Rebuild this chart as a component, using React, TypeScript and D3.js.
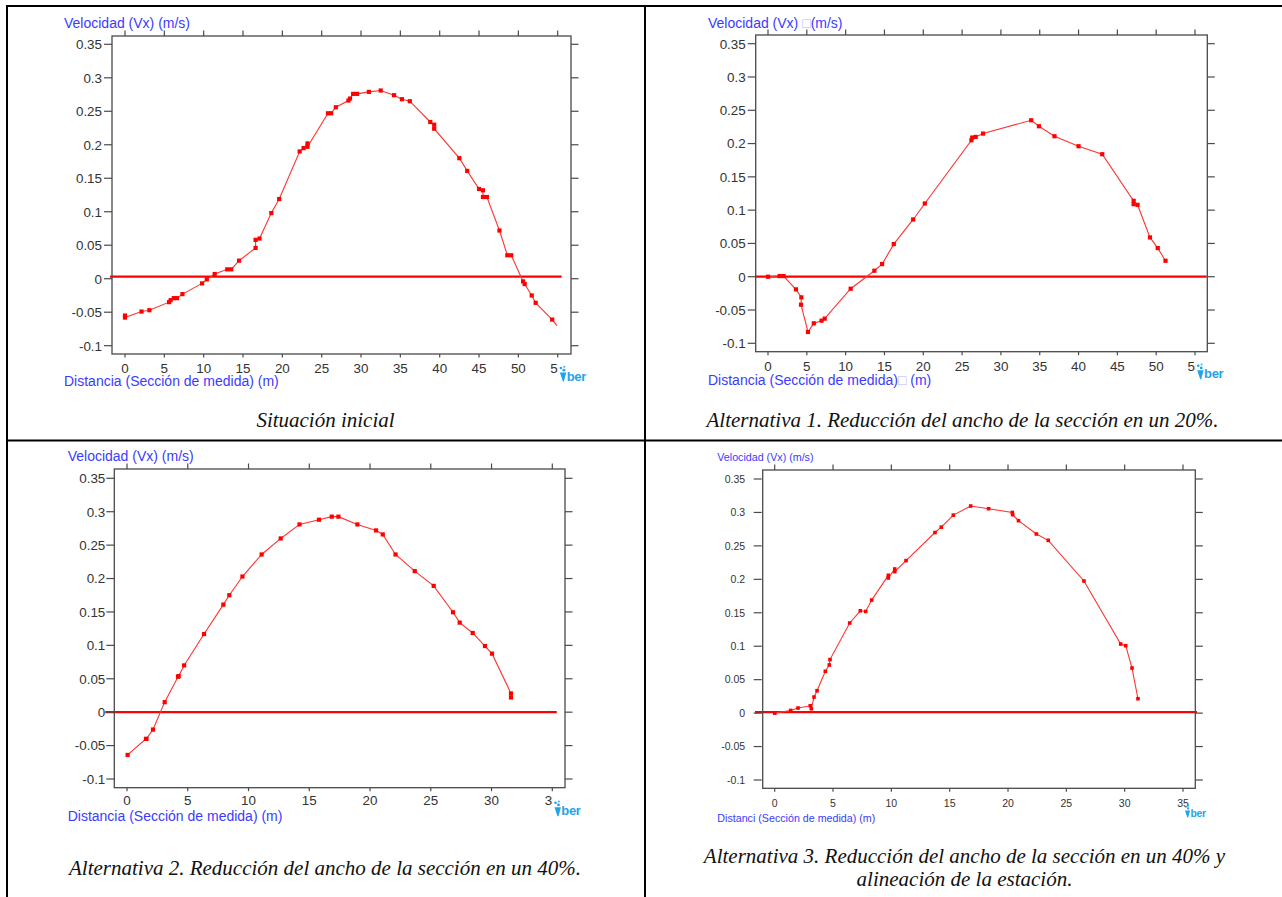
import React from "react";
import * as d3 from "d3";

// ---------- DATA ----------
const xTicks55 = [0, 5, 10, 15, 20, 25, 30, 35, 40, 45, 50, 55];
const xTicks35 = [0, 5, 10, 15, 20, 25, 30, 35];
const yTicks = [-0.1, -0.05, 0, 0.05, 0.1, 0.15, 0.2, 0.25, 0.3, 0.35];
const yTickLabels = ["-0.1", "-0.05", "0", "0.05", "0.1", "0.15", "0.2", "0.25", "0.3", "0.35"];

// Situación inicial
const sitX = [0, 0, 2.1, 3.1, 5.6, 5.8, 6.2, 6.6, 7.3, 9.8, 10.4, 11.4, 13.0, 13.5, 14.5, 16.6, 16.6, 17.1, 18.6, 19.6, 22.2, 22.7, 23.2, 23.2, 25.8, 26.2, 26.8, 28.4, 28.6, 29.0, 29.5, 31.0, 32.5, 34.2, 35.2, 36.2, 38.8, 39.3, 39.3, 42.5, 43.5, 45.0, 45.5, 45.5, 46.0, 47.6, 48.6, 49.1, 50.6, 50.8, 51.7, 52.2, 54.3, 54.9];
const sitY = [-0.055, -0.058, -0.049, -0.047, -0.035, -0.032, -0.029, -0.029, -0.023, -0.007, -0.001, 0.007, 0.014, 0.014, 0.027, 0.046, 0.058, 0.060, 0.098, 0.119, 0.190, 0.195, 0.202, 0.197, 0.247, 0.247, 0.256, 0.266, 0.269, 0.276, 0.276, 0.279, 0.281, 0.274, 0.268, 0.265, 0.234, 0.230, 0.224, 0.180, 0.161, 0.134, 0.132, 0.122, 0.122, 0.072, 0.035, 0.035, -0.004, -0.008, -0.025, -0.036, -0.061, -0.070];

// Alternativa 1
const alt1X = [0, 1.5, 2.0, 3.6, 4.3, 4.25, 5.15, 5.9, 6.9, 7.3, 10.65, 13.7, 14.7, 16.2, 18.7, 20.2, 26.2, 26.3, 26.75, 27.7, 33.9, 34.9, 36.9, 40.0, 43.05, 47.1, 47.1, 47.6, 49.2, 50.2, 51.2];
const alt1Y = [0.000, 0.001, 0.001, -0.019, -0.031, -0.042, -0.083, -0.070, -0.066, -0.063, -0.018, 0.009, 0.019, 0.049, 0.086, 0.110, 0.205, 0.209, 0.210, 0.215, 0.235, 0.226, 0.211, 0.196, 0.184, 0.114, 0.109, 0.108, 0.059, 0.043, 0.024];

// Alternativa 2
const alt2X = [0.05, 1.56, 1.6, 2.14, 3.1, 4.2, 4.25, 4.7, 6.34, 7.93, 8.42, 9.5, 11.08, 12.65, 14.2, 15.8, 16.85, 17.4, 18.96, 20.5, 21.05, 22.1, 23.68, 25.24, 26.83, 27.38, 28.45, 29.46, 30.04, 31.6, 31.6];
const alt2Y = [-0.064, -0.040, -0.040, -0.026, 0.015, 0.053, 0.054, 0.070, 0.117, 0.161, 0.175, 0.203, 0.236, 0.260, 0.281, 0.288, 0.2926, 0.2926, 0.281, 0.272, 0.266, 0.236, 0.211, 0.189, 0.1495, 0.134, 0.1185, 0.099, 0.0876, 0.028, 0.022];

// Alternativa 3
const alt3X = [0, 1.37, 2.0, 3.05, 3.14, 3.37, 3.63, 4.34, 4.68, 4.74, 6.43, 7.34, 7.8, 8.31, 9.74, 9.74, 10.29, 10.29, 11.26, 13.74, 14.28, 15.31, 16.8, 18.34, 20.37, 20.4, 20.9, 22.43, 23.45, 26.51, 29.66, 30.09, 30.63, 31.14];
const alt3Y = [0.000, 0.004, 0.0076, 0.011, 0.0066, 0.024, 0.0335, 0.0625, 0.072, 0.080, 0.1347, 0.153, 0.152, 0.169, 0.206, 0.202, 0.2155, 0.2115, 0.228, 0.270, 0.278, 0.296, 0.3096, 0.3056, 0.300, 0.2966, 0.2877, 0.2678, 0.2583, 0.1975, 0.1033, 0.1008, 0.0674, 0.0215];

const captions = [
  ["Situación inicial"],
  ["Alternativa 1. Reducción del ancho de la sección en un 20%."],
  ["Alternativa 2. Reducción del ancho de la sección en un 40%."],
  ["Alternativa 3. Reducción del ancho de la sección en un 40% y", "alineación de la estación."],
];

// ---------- LAYOUT ----------
const SANS = "'Liberation Sans', Arial, Helvetica, sans-serif";
const SERIF = "'Liberation Serif', 'Times New Roman', Times, serif";
const BLUE = "#3b3bff";
const AXIS = "#4a4a4a";
const TICKTXT = "#333";

type Panel = {
  xs: number[]; ys: number[]; xTicks: number[];
  xr: [number, number]; yr: [number, number];
  f: { l: number; t: number; r: number; b: number };
  zero: [number, number, number];
  titleX: number; yTitleY: number; xTitleY: number;
  fs: number; tfs: number; box: boolean; xLabel: string;
  cap: string[]; capX: number; capY: number[];
  hideTail: number; cover: boolean; logoDy: number; logoS: number;
  ms: number; xlDy: number; ylDx: number; leftTickGap: number;
};

const panels: Panel[] = [
  {
    xs: sitX, ys: sitY, xTicks: xTicks55, xr: [125, 557.7], yr: [345.7, 44.3],
    f: { l: 112, t: 36, r: 571, b: 354 }, zero: [-1.9, 55.5, 0.003],
    titleX: 64, yTitleY: 28, xTitleY: 386, fs: 14, tfs: 13.4, box: false,
    xLabel: "Distancia (Sección de medida) (m)",
    cap: captions[0], capX: 325.5, capY: [426.5], hideTail: 1, cover: true, logoDy: 11, logoS: 1,
    ms: 4.2, xlDy: 18.5, ylDx: 10, leftTickGap: 0,
  },
  {
    xs: alt1X, ys: alt1Y, xTicks: xTicks55, xr: [768, 1195], yr: [343.3, 43.7],
    f: { l: 755.7, t: 35, r: 1207.3, b: 351.7 }, zero: [-1.67, 56.5, 0],
    titleX: 708, yTitleY: 27.5, xTitleY: 385, fs: 14, tfs: 13.4, box: true,
    xLabel: "Distancia (Sección de medida)",
    cap: captions[1], capX: 962.5, capY: [426.5], hideTail: 0, cover: true, logoDy: 11, logoS: 1,
    ms: 4.2, xlDy: 19, ylDx: 10, leftTickGap: 0,
  },
  {
    xs: alt2X, ys: alt2Y, xTicks: xTicks35, xr: [127, 552.3], yr: [779, 478.3],
    f: { l: 114.3, t: 469, r: 565, b: 787.7 }, zero: [-1.79, 35.37, 0],
    titleX: 67.7, yTitleY: 461, xTitleY: 820.5, fs: 14, tfs: 13.4, box: false,
    xLabel: "Distancia (Sección de medida) (m)",
    cap: captions[2], capX: 325, capY: [874.5], hideTail: 0, cover: true, logoDy: 12, logoS: 1,
    ms: 4.2, xlDy: 17.5, ylDx: 9, leftTickGap: 0,
  },
  {
    xs: alt3X, ys: alt3Y, xTicks: xTicks35, xr: [774.7, 1183], yr: [780, 479],
    f: { l: 762.7, t: 470, r: 1195.3, b: 788.3 }, zero: [-1.69, 36.2, 0.0015],
    titleX: 717.3, yTitleY: 461, xTitleY: 821.5, fs: 10.7, tfs: 10.5, box: false,
    xLabel: "Distanci (Sección de medida) (m)",
    cap: captions[3], capX: 964.5, capY: [862.7, 886], hideTail: 0, cover: false, logoDy: 16, logoS: 0.8,
    ms: 3.6, xlDy: 19, ylDx: 17.5, leftTickGap: 1,
  },
];

function Logo({ x, y, s }: { x: number; y: number; s: number }) {
  const c = "#1fa3ec";
  return (
    <g transform={`translate(${x},${y}) scale(${s})`}>
      <circle cx={2.2} cy={3} r={1.3} fill={c} />
      <circle cx={5.6} cy={1.8} r={1.1} fill={c} opacity={0.8} />
      <circle cx={5.2} cy={5.2} r={1.4} fill={c} />
      <path d="M1.2,7.6 L7.6,7.6 L5.2,16.5 L4.2,16.5 Z" fill={c} />
      <text x={8} y={15.5} fontFamily={SANS} fontWeight="bold" fontSize={13} fill={c} letterSpacing={-0.3}>
        ber
      </text>
    </g>
  );
}

function ChartPanel({ p }: { p: Panel }) {
  const x = d3.scaleLinear().domain([0, p.xTicks[p.xTicks.length - 1]]).range(p.xr);
  const y = d3.scaleLinear().domain([-0.1, 0.35]).range(p.yr);
  const pts = p.xs.map((v, i) => [v, p.ys[i]] as [number, number]);
  const line = d3.line<[number, number]>().x((d) => x(d[0])).y((d) => y(d[1]));
  const marked = pts.slice(0, pts.length - p.hideTail);
  const { l, t, r, b } = p.f;
  const lastTick = p.xTicks[p.xTicks.length - 1];
  return (
    <g>
      <line x1={x(p.zero[0])} x2={x(p.zero[1])} y1={y(p.zero[2])} y2={y(p.zero[2])} stroke="#ff0000" strokeWidth={2.2} />
      <rect x={l} y={t} width={r - l} height={b - t} fill="none" stroke={AXIS} strokeWidth={1.3} />
      {yTicks.map((v, i) => (
        <g key={"yl" + i}>
          <line x1={l - 8 - p.leftTickGap} x2={l - p.leftTickGap} y1={y(v)} y2={y(v)} stroke={AXIS} strokeWidth={1.2} />
          <line x1={r} x2={r + 7.5} y1={y(v)} y2={y(v)} stroke={AXIS} strokeWidth={1.2} />
          <text x={l - p.ylDx} y={y(v)} dy="0.36em" textAnchor="end" fontFamily={SANS} fontSize={p.tfs} fill={TICKTXT}>
            {yTickLabels[i]}
          </text>
        </g>
      ))}
      {p.xTicks.map((v) => (
        <g key={"xt" + v}>
          <line x1={x(v)} x2={x(v)} y1={t} y2={t - 5.5} stroke={AXIS} strokeWidth={1.2} />
          <line x1={x(v)} x2={x(v)} y1={b} y2={b + 3.5} stroke={AXIS} strokeWidth={1.2} />
          <text x={x(v)} y={b + p.xlDy} textAnchor="middle" fontFamily={SANS} fontSize={p.tfs} fill={TICKTXT}>
            {String(v)}
          </text>
        </g>
      ))}
      <path d={line(pts) || ""} fill="none" stroke="#ff3333" strokeWidth={1.1} />
      {marked.map((d, i) => (
        <rect key={"m" + i} x={x(d[0]) - p.ms / 2} y={y(d[1]) - p.ms / 2} width={p.ms} height={p.ms} fill="#ff0000" />
      ))}
      <text x={p.titleX} y={p.yTitleY} fontFamily={SANS} fontSize={p.fs} fill={BLUE}>
        {p.box ? (
          <>
            Velocidad (Vx) <tspan fill="#b8b8ff">□</tspan>(m/s)
          </>
        ) : (
          "Velocidad (Vx) (m/s)"
        )}
      </text>
      <text x={p.titleX} y={p.xTitleY} fontFamily={SANS} fontSize={p.fs} fill={BLUE}>
        {p.box ? (
          <>
            {p.xLabel}
            <tspan fill="#b8b8ff">□</tspan> (m)
          </>
        ) : (
          p.xLabel
        )}
      </text>
      {p.cover && <rect x={x(lastTick) + 0.5} y={b + 5} width={31} height={26} fill="#fff" />}
      <Logo x={x(lastTick) + 1} y={b + p.logoDy} s={p.logoS} />
      {p.cap.map((c, i) => (
        <text key={"c" + i} x={p.capX} y={p.capY[i]} textAnchor="middle" fontFamily={SERIF} fontStyle="italic" fontSize={21} fill="#111">
          {c}
        </text>
      ))}
    </g>
  );
}

export default function App() {
  return (
    <svg
      width={1282}
      height={897}
      viewBox="0 0 1282 897"
      style={{ position: "absolute", left: 0, top: 0, background: "#fff" }}
    >
      <rect x={0} y={0} width={1282} height={897} fill="#fff" />
      {panels.map((p, i) => (
        <ChartPanel key={i} p={p} />
      ))}
      <line x1={6} x2={1282} y1={6} y2={6} stroke="#000" strokeWidth={2} />
      <line x1={7} x2={7} y1={5} y2={897} stroke="#000" strokeWidth={2} />
      <line x1={645} x2={645} y1={5} y2={897} stroke="#000" strokeWidth={2} />
      <line x1={6} x2={1282} y1={440.5} y2={440.5} stroke="#000" strokeWidth={2} />
    </svg>
  );
}
